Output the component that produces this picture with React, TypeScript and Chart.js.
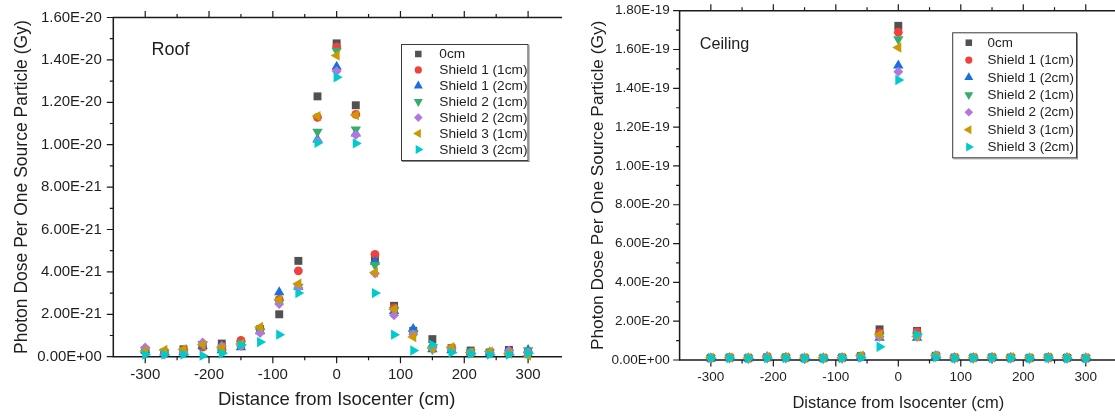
import React, { useEffect, useRef } from 'react';
import { Chart, registerables } from 'chart.js';

Chart.register(...registerables);

// ---------------- data ----------------
const distances = [-300, -270, -240, -210, -180, -150, -120, -90, -60, -30, 0, 30, 60, 90, 120, 150, 180, 210, 240, 270, 300];

const seriesNames = ['0cm', 'Shield 1 (1cm)', 'Shield 1 (2cm)', 'Shield 2 (1cm)', 'Shield 2 (2cm)', 'Shield 3 (1cm)', 'Shield 3 (2cm)'];
const seriesColors = ['#515151', '#F14040', '#1A6FDF', '#37AD6B', '#B177DE', '#CC9900', '#00CBCC'];
const markerStyles = ['rect', 'circle', 'triangle', 'triangle', 'rectRot', 'triangle', 'triangle'];
const markerRotations = [0, 0, 0, 180, 0, -90, 90];

// Roof values, in units of 1e-21 Gy
const roofUnit = 1e-21;
const roof0cm = [0.30, 0.20, 0.35, 0.50, 0.62, 0.60, 1.30, 2.00, 4.52, 12.28, 14.78, 11.86, 4.64, 2.40, 1.22, 0.83, 0.40, 0.29, 0.20, 0.32, 0.20];
const roofShield1a = [0.30, 0.20, 0.30, 0.45, 0.40, 0.77, 1.30, 2.70, 4.05, 11.29, 14.61, 11.43, 4.83, 2.30, 1.20, 0.45, 0.40, 0.20, 0.20, 0.20, 0.20];
const roofShield1b = [0.30, 0.20, 0.20, 0.50, 0.30, 0.45, 1.20, 3.04, 3.30, 10.25, 13.68, 10.53, 4.48, 2.15, 1.31, 0.35, 0.30, 0.20, 0.20, 0.20, 0.32];
const roofShield2a = [0.30, 0.20, 0.20, 0.60, 0.20, 0.60, 1.20, 2.55, 3.30, 10.61, 14.43, 10.72, 4.32, 2.20, 1.12, 0.35, 0.30, 0.20, 0.20, 0.20, 0.30];
const roofShield2b = [0.43, 0.10, 0.20, 0.67, 0.50, 0.50, 1.12, 2.48, 3.25, 10.17, 13.47, 10.46, 3.92, 1.95, 1.05, 0.40, 0.35, 0.20, 0.20, 0.28, 0.20];
const roofShield3a = [0.27, 0.32, 0.35, 0.56, 0.43, 0.60, 1.40, 2.69, 3.44, 11.35, 14.21, 11.40, 3.97, 2.24, 0.93, 0.40, 0.45, 0.20, 0.24, 0.15, 0.05];
const roofShield3b = [0.10, 0.10, 0.10, 0.05, 0.15, 0.56, 0.69, 1.04, 3.00, 10.09, 13.18, 10.06, 3.00, 1.04, 0.29, 0.56, 0.20, 0.15, 0.10, 0.10, 0.15];

// Ceiling values, in units of 1e-20 Gy
const ceilingUnit = 1e-20;
const ceiling0cm = [0.10, 0.12, 0.10, 0.14, 0.13, 0.10, 0.10, 0.12, 0.20, 1.58, 17.22, 1.50, 0.22, 0.12, 0.12, 0.13, 0.12, 0.10, 0.13, 0.11, 0.10];
const ceilingShield1a = [0.09, 0.11, 0.09, 0.13, 0.12, 0.09, 0.10, 0.11, 0.18, 1.40, 16.89, 1.45, 0.20, 0.11, 0.11, 0.12, 0.11, 0.10, 0.12, 0.10, 0.09];
const ceilingShield1b = [0.09, 0.10, 0.09, 0.15, 0.11, 0.09, 0.09, 0.10, 0.16, 1.15, 15.17, 1.15, 0.19, 0.10, 0.10, 0.11, 0.12, 0.09, 0.12, 0.10, 0.09];
const ceilingShield2a = [0.10, 0.11, 0.09, 0.12, 0.12, 0.09, 0.09, 0.10, 0.17, 1.25, 16.53, 1.25, 0.19, 0.10, 0.10, 0.11, 0.11, 0.09, 0.11, 0.10, 0.09];
const ceilingShield2b = [0.10, 0.12, 0.10, 0.18, 0.13, 0.10, 0.10, 0.11, 0.18, 1.20, 14.86, 1.20, 0.24, 0.11, 0.11, 0.12, 0.12, 0.10, 0.13, 0.11, 0.10];
const ceilingShield3a = [0.12, 0.13, 0.10, 0.16, 0.14, 0.10, 0.11, 0.12, 0.22, 1.30, 16.10, 1.22, 0.22, 0.12, 0.12, 0.13, 0.14, 0.11, 0.13, 0.12, 0.10];
const ceilingShield3b = [0.10, 0.10, 0.09, 0.10, 0.10, 0.09, 0.09, 0.10, 0.12, 0.68, 14.43, 1.30, 0.14, 0.09, 0.10, 0.10, 0.09, 0.09, 0.11, 0.09, 0.08];

// ticks
const xTicks = [-300, -200, -100, 0, 100, 200, 300];
const xMinorTicks = [-250, -150, -50, 50, 150, 250];
const roofYTicks = [0, 2e-21, 4e-21, 6e-21, 8e-21, 1e-20, 1.2e-20, 1.4e-20, 1.6e-20];
const roofYMinor = [1e-21, 3e-21, 5e-21, 7e-21, 9e-21, 1.1e-20, 1.3e-20, 1.5e-20];
const ceilingYTicks = [0, 2e-20, 4e-20, 6e-20, 8e-20, 1e-19, 1.2e-19, 1.4e-19, 1.6e-19, 1.8e-19];
const ceilingYMinor = [1e-20, 3e-20, 5e-20, 7e-20, 9e-20, 1.1e-19, 1.3e-19, 1.5e-19, 1.7e-19];

const FONT = 'Arial, "Liberation Sans", sans-serif';
const TEXT = '#1e1e1e';

// ---------------- helpers ----------------
function sci(v: number): string {
  const s = Number(v).toExponential(2);
  const [m, e] = s.split('e');
  const sign = e[0] === '-' ? '-' : '+';
  const digits = e.replace(/[+-]/, '').padStart(2, '0');
  return `${m}E${sign}${digits}`;
}

function drawMarker(ctx: CanvasRenderingContext2D, style: string, rotDeg: number, x: number, y: number, r: number, color: string) {
  ctx.save();
  ctx.fillStyle = color;
  ctx.beginPath();
  let rad = (rotDeg * Math.PI) / 180;
  if (style === 'circle') {
    ctx.arc(x, y, r, 0, Math.PI * 2);
  } else if (style === 'rect') {
    const s = Math.SQRT1_2 * r;
    ctx.rect(x - s, y - s, 2 * s, 2 * s);
  } else if (style === 'rectRot') {
    ctx.moveTo(x, y - r);
    ctx.lineTo(x + r, y);
    ctx.lineTo(x, y + r);
    ctx.lineTo(x - r, y);
    ctx.closePath();
  } else if (style === 'triangle') {
    ctx.moveTo(x + Math.sin(rad) * r, y - Math.cos(rad) * r);
    rad += (2 * Math.PI) / 3;
    ctx.lineTo(x + Math.sin(rad) * r, y - Math.cos(rad) * r);
    rad += (2 * Math.PI) / 3;
    ctx.lineTo(x + Math.sin(rad) * r, y - Math.cos(rad) * r);
    ctx.closePath();
  }
  ctx.fill();
  ctx.restore();
}

const legendRadii = [4.6, 3.6, 5.2, 5.2, 4.3, 5.2, 5.2];
const pointRadii = [5.6, 4.4, 6.0, 6.0, 5.0, 6.0, 6.0];

const axisDecor = {
  id: 'axisDecor',
  beforeDatasetsDraw(chart: any, _args: any, opts: any) {
    const { ctx, chartArea } = chart;
    const { left, right, top, bottom } = chartArea;
    const xs = chart.scales.x;
    const ys = chart.scales.y;
    ctx.save();
    ctx.strokeStyle = '#1a1a1a';
    ctx.lineWidth = 1.5;
    ctx.beginPath();
    ctx.moveTo(left, top);
    ctx.lineTo(right + 2, top);
    ctx.moveTo(left, top - 0.75);
    ctx.lineTo(left, bottom + 0.75);
    ctx.moveTo(left, bottom);
    ctx.lineTo(right + 2, bottom);
    ctx.stroke();
    ctx.lineWidth = 1.2;
    ctx.beginPath();
    for (const v of opts.xMajor) {
      const px = xs.getPixelForValue(v);
      ctx.moveTo(px, bottom);
      ctx.lineTo(px, bottom + 6.5);
      ctx.moveTo(px, top);
      ctx.lineTo(px, top - 6.5);
    }
    for (const v of opts.xMinor) {
      const px = xs.getPixelForValue(v);
      ctx.moveTo(px, bottom);
      ctx.lineTo(px, bottom + 3.5);
      ctx.moveTo(px, top);
      ctx.lineTo(px, top - 3.5);
    }
    for (const v of opts.yMajor) {
      const py = ys.getPixelForValue(v);
      ctx.moveTo(left - 6.5, py);
      ctx.lineTo(left, py);
    }
    for (const v of opts.yMinor) {
      const py = ys.getPixelForValue(v);
      ctx.moveTo(left - 3.5, py);
      ctx.lineTo(left, py);
    }
    ctx.stroke();
    ctx.restore();
  },
  afterDraw(chart: any, _args: any, opts: any) {
    const { ctx } = chart;
    ctx.save();
    // panel label
    ctx.fillStyle = TEXT;
    ctx.font = `${opts.labelSize}px ${FONT}`;
    ctx.textBaseline = 'middle';
    ctx.textAlign = 'left';
    ctx.fillText(opts.label, opts.labelX, opts.labelY);
    // legend
    const lg = opts.legend;
    ctx.fillStyle = '#ffffff';
    ctx.fillRect(lg.x0, lg.y0, lg.x1 - lg.x0, lg.y1 - lg.y0);
    ctx.strokeStyle = '#3a3a3a';
    ctx.lineWidth = 1;
    ctx.strokeRect(lg.x0 + 0.5, lg.y0 + 0.5, lg.x1 - lg.x0, lg.y1 - lg.y0);
    ctx.strokeStyle = '#8a8a8a';
    ctx.beginPath();
    ctx.moveTo(lg.x1 + 1.5, lg.y0 + 1);
    ctx.lineTo(lg.x1 + 1.5, lg.y1 + 2);
    ctx.moveTo(lg.x0 + 1, lg.y1 + 1.5);
    ctx.lineTo(lg.x1 + 2, lg.y1 + 1.5);
    ctx.stroke();
    ctx.font = `${lg.fontSize}px ${FONT}`;
    ctx.textBaseline = 'middle';
    chart.data.datasets.forEach((ds: any, i: number) => {
      const y = lg.rowY0 + i * lg.rowStep;
      drawMarker(ctx, markerStyles[i], markerRotations[i], lg.markerX, y, legendRadii[i], seriesColors[i]);
      ctx.fillStyle = TEXT;
      ctx.fillText(ds.label, lg.textX, y + 0.5);
    });
    ctx.restore();
  },
};

function buildDatasets(series: number[][], unit: number) {
  return series.map((vals, i) => ({
    label: seriesNames[i],
    data: distances.map((d, j) => ({ x: d, y: vals[j] * unit })),
    pointStyle: markerStyles[i],
    pointRotation: markerRotations[i],
    pointRadius: pointRadii[i],
    pointHoverRadius: pointRadii[i],
    pointBackgroundColor: seriesColors[i],
    pointBorderColor: seriesColors[i],
    pointBorderWidth: 0,
    backgroundColor: seriesColors[i],
    borderColor: seriesColors[i],
    showLine: false,
    clip: false,
    order: series.length - i,
  }));
}

interface PanelCfg {
  series: number[][];
  unit: number;
  yMax: number;
  yTicks: number[];
  yMinor: number[];
  padTop: number;
  padRight: number;
  yWidth: number;
  xHeight: number;
  tickSize: number;
  xTickPad: number;
  yTickPad: number;
  xTitleSize: number;
  xTitlePad: number;
  yTitleSize: number;
  yTitlePad: number;
  label: string;
  labelSize: number;
  labelX: number;
  labelY: number;
  legend: any;
}

function makeConfig(p: PanelCfg): any {
  return {
    type: 'scatter',
    data: { datasets: buildDatasets(p.series, p.unit) },
    options: {
      responsive: false,
      animation: false,
      devicePixelRatio: 1,
      events: [],
      layout: { padding: { top: p.padTop, right: p.padRight, bottom: 0, left: 0 } },
      plugins: {
        legend: { display: false },
        tooltip: { enabled: false },
        axisDecor: {
          xMajor: xTicks,
          xMinor: xMinorTicks,
          yMajor: p.yTicks,
          yMinor: p.yMinor,
          label: p.label,
          labelSize: p.labelSize,
          labelX: p.labelX,
          labelY: p.labelY,
          legend: p.legend,
        },
      },
      scales: {
        x: {
          type: 'linear',
          position: 'bottom',
          min: -350,
          max: 350,
          afterBuildTicks: (s: any) => {
            s.ticks = xTicks.map((v) => ({ value: v }));
          },
          afterFit: (s: any) => {
            s.height = p.xHeight;
            s.paddingLeft = 0;
            s.paddingRight = 0;
          },
          grid: { display: false, drawTicks: false },
          border: { display: false },
          ticks: {
            padding: p.xTickPad,
            autoSkip: false,
            maxRotation: 0,
            color: TEXT,
            font: { family: FONT, size: p.tickSize, lineHeight: 1.2 },
            callback: (v: any) => String(v),
          },
          title: {
            display: true,
            text: 'Distance from Isocenter (cm)',
            color: TEXT,
            font: { family: FONT, size: p.xTitleSize, lineHeight: 1.2 },
            padding: { top: 0, bottom: p.xTitlePad },
          },
        },
        y: {
          type: 'linear',
          position: 'left',
          min: 0,
          max: p.yMax,
          afterBuildTicks: (s: any) => {
            s.ticks = p.yTicks.map((v) => ({ value: v }));
          },
          afterFit: (s: any) => {
            s.width = p.yWidth;
            s.paddingTop = 0;
            s.paddingBottom = 0;
          },
          grid: { display: false, drawTicks: false },
          border: { display: false },
          ticks: {
            padding: p.yTickPad,
            autoSkip: false,
            color: TEXT,
            font: { family: FONT, size: p.tickSize, lineHeight: 1.2 },
            callback: (v: any) => sci(v),
          },
          title: {
            display: true,
            text: 'Photon Dose Per One Source Particle (Gy)',
            color: TEXT,
            font: { family: FONT, size: p.yTitleSize, lineHeight: 1.2 },
            padding: { top: p.yTitlePad, bottom: 0 },
          },
        },
      },
    },
    plugins: [axisDecor],
  };
}

const roofPanel: PanelCfg = {
  series: [roof0cm, roofShield1a, roofShield1b, roofShield2a, roofShield2b, roofShield3a, roofShield3b],
  unit: roofUnit,
  yMax: 1.6e-20,
  yTicks: roofYTicks,
  yMinor: roofYMinor,
  padTop: 17.5,
  padRight: 1,
  yWidth: 113.3,
  xHeight: 59.3,
  tickSize: 15,
  xTickPad: 9.3,
  yTickPad: 11.5,
  xTitleSize: 18.5,
  xTitlePad: 4.9,
  yTitleSize: 17.5,
  yTitlePad: 11.5,
  label: 'Roof',
  labelSize: 18,
  labelX: 151.5,
  labelY: 50,
  legend: { x0: 401, y0: 44, x1: 527.5, y1: 160, rowY0: 54, rowStep: 15.9, markerX: 418.3, textX: 439.3, fontSize: 13.7 },
};

const ceilingPanel: PanelCfg = {
  series: [ceiling0cm, ceilingShield1a, ceilingShield1b, ceilingShield2a, ceilingShield2b, ceilingShield3a, ceilingShield3b],
  unit: ceilingUnit,
  yMax: 1.8e-19,
  yTicks: ceilingYTicks,
  yMinor: ceilingYMinor,
  padTop: 10.7,
  padRight: 1.6,
  yWidth: 119.6,
  xHeight: 56,
  tickSize: 13.5,
  xTickPad: 9.6,
  yTickPad: 9.9,
  xTitleSize: 16.5,
  xTitlePad: 3.1,
  yTitleSize: 17.3,
  yTitlePad: 27.8,
  label: 'Ceiling',
  labelSize: 16.2,
  labelX: 139.8,
  labelY: 45,
  legend: { x0: 392.2, y0: 32.3, x1: 516, y1: 157.3, rowY0: 42.7, rowStep: 17.4, markerX: 408.8, textX: 427.6, fontSize: 13.4 },
};

function Panel({ cfg, left, width }: { cfg: PanelCfg; left: number; width: number }) {
  const ref = useRef<HTMLCanvasElement | null>(null);
  useEffect(() => {
    if (!ref.current) return;
    const chart = new Chart(ref.current, makeConfig(cfg));
    return () => chart.destroy();
  }, [cfg]);
  return (
    <canvas
      ref={ref}
      width={width}
      height={416}
      style={{ position: 'absolute', left, top: 0, width, height: 416, display: 'block' }}
    />
  );
}

export default function App() {
  return (
    <div
      style={{
        position: 'fixed',
        left: 0,
        top: 0,
        width: 1115,
        height: 416,
        overflow: 'hidden',
        background: '#ffffff',
      }}
    >
      <Panel cfg={roofPanel} left={0} width={566} />
      <Panel cfg={ceilingPanel} left={560} width={563} />
    </div>
  );
}
